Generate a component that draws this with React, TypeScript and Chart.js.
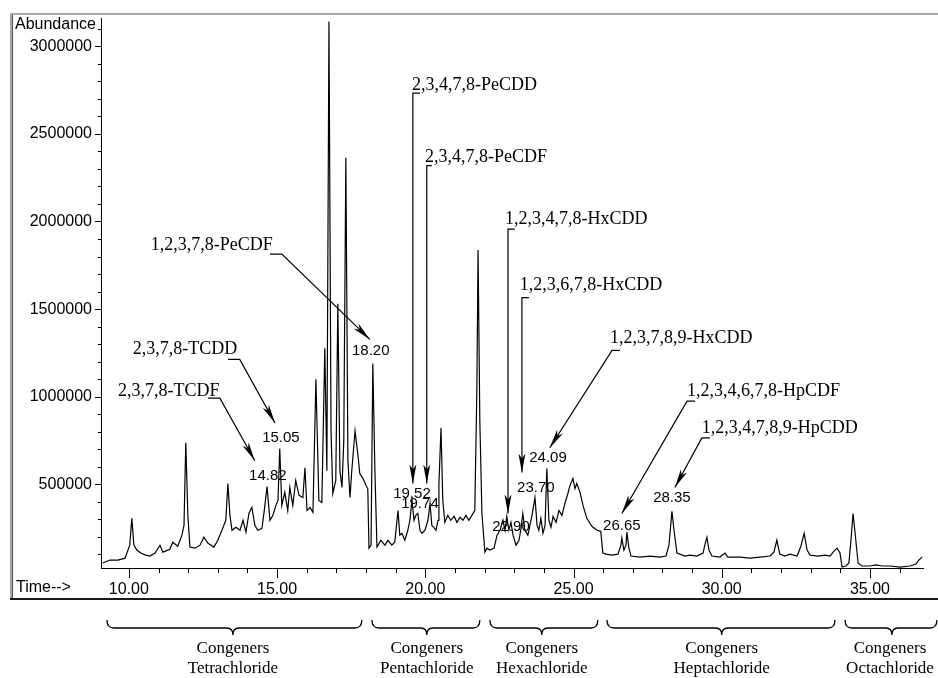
import React, { useEffect, useRef } from 'react';
import { Chart, registerables } from 'chart.js';
Chart.register(...registerables);

// ---- chromatogram trace, one pair of arrays per congener window (time in min, abundance) ----
const tetraTimes = [9.12, 9.36, 9.63, 9.87, 10.03, 10.1, 10.17, 10.27, 10.4, 10.57, 10.71, 10.88, 11.05, 11.15, 11.38, 11.48, 11.65, 11.79, 11.86, 11.92, 11.99, 12.06, 12.23, 12.4, 12.53, 12.67, 12.87, 13.0, 13.14, 13.27, 13.34, 13.41, 13.48, 13.61, 13.75, 13.85, 13.95, 14.05, 14.15, 14.25, 14.35, 14.49, 14.59, 14.66, 14.76, 14.86, 14.96, 15.03, 15.09, 15.16, 15.26, 15.36, 15.43, 15.53, 15.63, 15.74, 15.87, 15.94, 16.01, 16.11, 16.21, 16.31, 16.41, 16.51, 16.61, 16.68, 16.75, 16.82, 16.88, 16.98, 17.05, 17.12, 17.19, 17.25, 17.32, 17.39, 17.46, 17.52, 17.63, 17.73, 17.79, 17.9, 18.0, 18.06];
const tetraAbundance = [51000, 68000, 68000, 79000, 153000, 306000, 153000, 125000, 108000, 96000, 91000, 108000, 153000, 113000, 130000, 170000, 147000, 210000, 266000, 737000, 323000, 142000, 136000, 153000, 198000, 164000, 142000, 181000, 238000, 295000, 505000, 323000, 238000, 255000, 238000, 295000, 227000, 334000, 368000, 266000, 238000, 249000, 380000, 488000, 295000, 323000, 380000, 408000, 703000, 380000, 454000, 351000, 482000, 380000, 522000, 437000, 425000, 595000, 351000, 368000, 340000, 1100000, 408000, 397000, 1276000, 578000, 3141000, 805000, 448000, 522000, 1531000, 578000, 482000, 748000, 2364000, 635000, 425000, 578000, 805000, 663000, 561000, 533000, 493000, 476000];

const pentaTimes = [18.1, 18.17, 18.23, 18.3, 18.37, 18.5, 18.64, 18.74, 18.87, 18.97, 19.08, 19.14, 19.21, 19.31, 19.41, 19.48, 19.55, 19.62, 19.68, 19.75, 19.82, 19.89, 19.99, 20.09, 20.16, 20.22, 20.29, 20.36, 20.43, 20.46, 20.53, 20.59, 20.66, 20.76, 20.86, 20.97, 21.07, 21.17, 21.27, 21.37, 21.47, 21.57, 21.67, 21.74, 21.78, 21.84, 21.91, 21.98];
const pentaAbundance = [136000, 153000, 1190000, 578000, 142000, 181000, 153000, 181000, 153000, 170000, 351000, 210000, 221000, 181000, 238000, 295000, 408000, 295000, 323000, 334000, 238000, 221000, 238000, 295000, 391000, 266000, 255000, 238000, 295000, 505000, 822000, 408000, 283000, 323000, 295000, 317000, 283000, 312000, 295000, 323000, 295000, 323000, 351000, 1049000, 1837000, 862000, 334000, 181000];

const hexaTimes = [22.01, 22.08, 22.18, 22.32, 22.42, 22.52, 22.62, 22.69, 22.75, 22.82, 22.89, 22.96, 23.06, 23.16, 23.23, 23.29, 23.36, 23.46, 23.53, 23.6, 23.7, 23.77, 23.83, 23.9, 23.97, 24.04, 24.1, 24.17, 24.24, 24.31, 24.41, 24.51, 24.61, 24.71, 24.81, 24.88, 24.98, 25.05, 25.11, 25.22, 25.32, 25.45, 25.62, 25.79, 25.92];
const hexaAbundance = [113000, 136000, 125000, 136000, 210000, 238000, 295000, 238000, 317000, 238000, 283000, 210000, 153000, 181000, 249000, 334000, 238000, 210000, 266000, 323000, 425000, 266000, 238000, 306000, 221000, 266000, 590000, 295000, 255000, 317000, 283000, 351000, 323000, 391000, 448000, 493000, 533000, 476000, 505000, 454000, 380000, 306000, 261000, 238000, 232000];

const heptaTimes = [25.99, 26.09, 26.3, 26.5, 26.6, 26.63, 26.7, 26.77, 26.8, 26.87, 26.94, 27.24, 27.58, 27.92, 28.12, 28.22, 28.32, 28.39, 28.49, 28.76, 28.93, 29.16, 29.37, 29.43, 29.5, 29.57, 29.67, 29.94, 30.11, 30.21, 30.62, 30.95, 31.29, 31.63, 31.76, 31.86, 31.96, 32.13, 32.3, 32.54, 32.67, 32.78, 32.88, 32.98, 33.25, 33.48, 33.65, 33.79, 33.89, 33.99];
const heptaAbundance = [108000, 102000, 96000, 102000, 153000, 193000, 125000, 153000, 227000, 136000, 91000, 85000, 91000, 85000, 91000, 153000, 346000, 238000, 108000, 91000, 96000, 91000, 108000, 153000, 198000, 125000, 91000, 85000, 108000, 85000, 85000, 79000, 85000, 91000, 113000, 181000, 102000, 91000, 102000, 91000, 147000, 221000, 125000, 96000, 91000, 96000, 91000, 119000, 136000, 108000];

const octaTimes = [34.06, 34.19, 34.29, 34.36, 34.43, 34.49, 34.6, 34.73, 35.0, 35.2, 35.41, 35.68, 36.01, 36.35, 36.55, 36.65, 36.76];
const octaAbundance = [28000, 34000, 51000, 181000, 334000, 238000, 51000, 34000, 34000, 40000, 34000, 34000, 28000, 34000, 45000, 68000, 85000];

// ---- axes ----
const yTickValues = [500000, 1000000, 1500000, 2000000, 2500000, 3000000];
const xTickValues = [10, 15, 20, 25, 30, 35];
const yMinorStep = 100000;
const xMinorStep = 1;

// ---- peak retention-time labels ----
const peakLabels = ['14.82', '15.05', '18.20', '19.52', '19.74', '22.90', '23.70', '24.09', '26.65', '28.35'];
const peakLabelTimes = [14.69, 15.13, 18.16, 19.55, 19.82, 22.89, 23.73, 24.14, 26.63, 28.32];
const peakLabelLevels = [550000, 765000, 1259000, 448000, 391000, 255000, 482000, 652000, 266000, 425000];

// ---- congener annotations ----
const compoundNames = ['2,3,7,8-TCDF', '2,3,7,8-TCDD', '1,2,3,7,8-PeCDF', '2,3,4,7,8-PeCDD', '2,3,4,7,8-PeCDF', '1,2,3,4,7,8-HxCDD', '1,2,3,6,7,8-HxCDD', '1,2,3,7,8,9-HxCDD', '1,2,3,4,6,7,8-HpCDF', '1,2,3,4,7,8,9-HpCDD'];
const compoundTextAt: [number, number][] = [[9.63, 1032000], [10.13, 1270000], [10.74, 1865000], [19.55, 2778000], [19.99, 2364000], [22.69, 2012000], [23.19, 1638000], [26.23, 1332000], [28.83, 1032000], [29.33, 822000]];
const compoundLeaders: [number, number][][] = [
  [[12.67, 992000], [13.07, 992000], [14.25, 635000]],
  [[13.34, 1213000], [13.74, 1213000], [14.93, 850000]],
  [[14.76, 1814000], [15.16, 1814000], [18.13, 1327000]],
  [[19.82, 2732000], [19.58, 2732000], [19.58, 505000]],
  [[20.22, 2319000], [20.05, 2319000], [20.05, 505000]],
  [[23.02, 1956000], [22.79, 1956000], [22.79, 334000]],
  [[23.5, 1565000], [23.26, 1565000], [23.26, 567000]],
  [[26.57, 1264000], [26.3, 1264000], [24.2, 709000]],
  [[29.1, 975000], [28.83, 975000], [26.63, 334000]],
  [[29.6, 765000], [29.33, 765000], [28.42, 482000]],
];

// ---- congener groups (bracketed time windows) ----
const groupNames = ['Tetrachloride', 'Pentachloride', 'Hexachloride', 'Heptachloride', 'Octachloride'];
const groupStart = [9.26, 18.2, 22.18, 26.13, 34.16];
const groupEnd = [17.86, 21.84, 25.82, 33.82, 37.26];
const groupMid = [13.51, 20.05, 23.93, 30.0, 35.74];

const SANS = '"Liberation Sans", Arial, sans-serif';
const SERIF = '"Liberation Serif", "Times New Roman", serif';

function buildPoints() {
  const t = [...tetraTimes, ...pentaTimes, ...hexaTimes, ...heptaTimes, ...octaTimes];
  const a = [...tetraAbundance, ...pentaAbundance, ...hexaAbundance, ...heptaAbundance, ...octaAbundance];
  return t.map((x, i) => ({ x, y: a[i] }));
}

const overlay = {
  id: 'overlay',
  afterDraw(chart: any) {
    const { ctx, scales } = chart;
    const xs = scales.x, ys = scales.y;
    const px = (t: number) => xs.getPixelForValue(t);
    const py = (v: number) => ys.getPixelForValue(v);
    const area = chart.chartArea;
    ctx.save();
    // window frame
    ctx.fillStyle = '#a8a8a8';
    ctx.fillRect(10, 13, 928, 2);
    ctx.fillRect(10, 13, 2, 587);
    ctx.fillStyle = '#555';
    ctx.fillRect(12, 15, 1, 583);
    ctx.fillStyle = '#1a1a1a';
    ctx.fillRect(10, 598, 928, 2);

    // tick marks
    ctx.strokeStyle = '#000';
    ctx.lineWidth = 1;
    for (let v = yMinorStep; v <= ys.max; v += yMinorStep) {
      const yy = Math.round(py(v)) + 0.5;
      const major = v % 500000 === 0;
      ctx.beginPath();
      ctx.moveTo(area.left - (major ? 6 : 3), yy);
      ctx.lineTo(area.left, yy);
      ctx.stroke();
    }
    for (let t = Math.ceil(xs.min); t <= xs.max; t += xMinorStep) {
      const xx = Math.round(px(t)) + 0.5;
      const major = t % 5 === 0;
      ctx.beginPath();
      ctx.moveTo(xx, area.bottom);
      ctx.lineTo(xx, area.bottom + (major ? 10 : 5));
      ctx.stroke();
    }

    // axis captions
    ctx.fillStyle = '#000';
    ctx.font = `16px ${SANS}`;
    ctx.textAlign = 'left';
    ctx.textBaseline = 'middle';
    ctx.fillText('Abundance', 15, 25);
    ctx.fillText('Time-->', 16, 588);

    // peak time labels
    ctx.font = `15px ${SANS}`;
    ctx.textAlign = 'center';
    peakLabels.forEach((s, i) => ctx.fillText(s, px(peakLabelTimes[i]), py(peakLabelLevels[i])));

    // compound annotations
    ctx.font = `18px ${SERIF}`;
    ctx.textAlign = 'left';
    ctx.lineWidth = 1.2;
    compoundNames.forEach((name, i) => {
      const [tt, tv] = compoundTextAt[i];
      ctx.fillText(name, px(tt), py(tv));
      const pts = compoundLeaders[i].map(([t, v]) => [px(t), py(v)]);
      ctx.beginPath();
      ctx.moveTo(pts[0][0], pts[0][1]);
      for (let k = 1; k < pts.length; k++) ctx.lineTo(pts[k][0], pts[k][1]);
      ctx.stroke();
      const [ax, ay] = pts[pts.length - 2];
      const [bx, by] = pts[pts.length - 1];
      const len = Math.hypot(bx - ax, by - ay);
      const dx = (bx - ax) / len, dy = (by - ay) / len;
      const L = 19, W = 3.5;
      const cx = bx - dx * L, cy = by - dy * L;
      ctx.beginPath();
      ctx.moveTo(bx, by);
      ctx.lineTo(cx - dy * W, cy + dx * W);
      ctx.lineTo(bx - dx * (L - 5), by - dy * (L - 5));
      ctx.lineTo(cx + dy * W, cy - dx * W);
      ctx.closePath();
      ctx.fill();
    });

    // group braces
    ctx.lineWidth = 1.3;
    const yTop = 620, yLine = 628, yTip = 635;
    groupNames.forEach((g, i) => {
      const x1 = px(groupStart[i]), x2 = px(groupEnd[i]), xc = px(groupMid[i]);
      ctx.beginPath();
      ctx.moveTo(x1, yTop);
      ctx.quadraticCurveTo(x1, yLine, x1 + 7, yLine);
      ctx.lineTo(xc - 6, yLine);
      ctx.quadraticCurveTo(xc, yLine, xc, yTip);
      ctx.quadraticCurveTo(xc, yLine, xc + 6, yLine);
      ctx.lineTo(x2 - 7, yLine);
      ctx.quadraticCurveTo(x2, yLine, x2, yTop);
      ctx.stroke();
      ctx.font = `17px ${SERIF}`;
      ctx.textAlign = 'center';
      ctx.fillText('Congeners', Math.min(xc, 890), 649);
      ctx.fillText(g, Math.min(xc, 890), 669);
    });
    ctx.restore();
  },
};

export default function App() {
  const ref = useRef<HTMLCanvasElement | null>(null);
  useEffect(() => {
    if (!ref.current) return;
    const chart = new Chart(ref.current, {
      type: 'line',
      data: {
        datasets: [
          {
            data: buildPoints(),
            borderColor: '#000',
            borderWidth: 1.2,
            pointRadius: 0,
            tension: 0,
            fill: false,
          },
        ],
      },
      options: {
        animation: false,
        responsive: false,
        events: [],
        layout: { padding: { left: 0, top: 15, right: 15, bottom: 0 } },
        plugins: { legend: { display: false }, tooltip: { enabled: false } },
        scales: {
          x: {
            type: 'linear',
            min: 9.06,
            max: 36.79,
            afterFit: (s: any) => { s.height = 110; },
            afterBuildTicks: (s: any) => { s.ticks = xTickValues.map((value) => ({ value })); },
            grid: { display: false, drawTicks: false },
            border: { display: true, color: '#000', width: 1 },
            ticks: {
              autoSkip: false,
              maxRotation: 0,
              padding: 12,
              color: '#000',
              font: { family: SANS, size: 16 },
              callback: (v: any) => Number(v).toFixed(2),
            },
          },
          y: {
            type: 'linear',
            min: 22700,
            max: 3157600,
            afterFit: (s: any) => { s.width = 101; },
            afterBuildTicks: (s: any) => { s.ticks = yTickValues.map((value) => ({ value })); },
            grid: { display: false, drawTicks: false },
            border: { display: true, color: '#000', width: 1 },
            ticks: {
              autoSkip: false,
              padding: 9,
              color: '#000',
              font: { family: SANS, size: 16 },
              callback: (v: any) => String(v),
            },
          },
        },
      },
      plugins: [overlay],
    });
    return () => chart.destroy();
  }, []);
  return (
    <div style={{ position: 'absolute', left: 0, top: 0, width: 938, height: 678, background: '#fff' }}>
      <canvas ref={ref} width={938} height={678} style={{ display: 'block', width: 938, height: 678 }} />
    </div>
  );
}
